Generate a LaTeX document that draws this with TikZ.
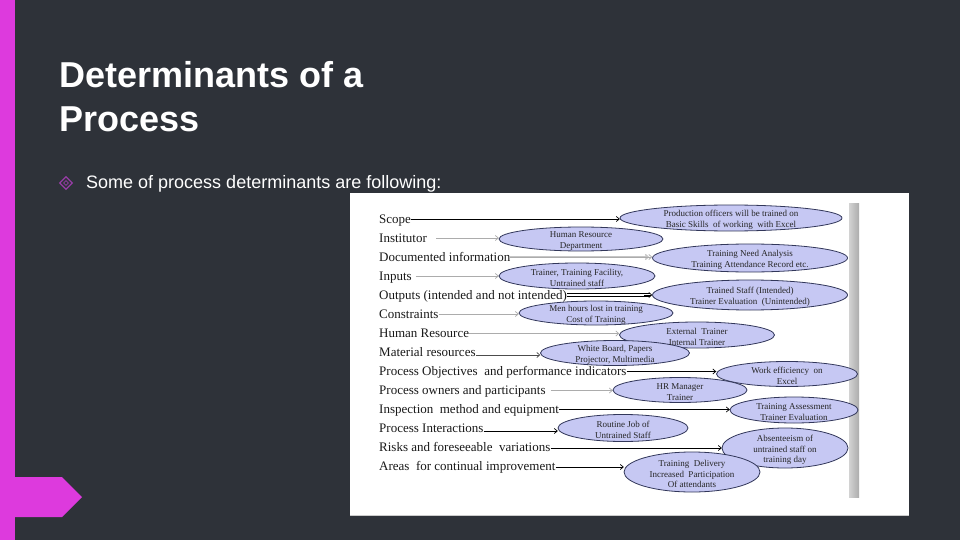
\documentclass[tikz,border=0pt]{standalone}
\usepackage{fontspec}
\setmainfont{Liberation Serif}
\newfontfamily\arialf{Liberation Sans}
\usetikzlibrary{shapes.geometric,arrows.meta,calc}
\definecolor{bg}{RGB}{46,50,57}
\definecolor{mag}{RGB}{221,58,221}
\definecolor{lav}{RGB}{198,200,243}
\definecolor{edgec}{RGB}{50,55,90}
\definecolor{bul}{RGB}{150,60,165}
\begin{document}
\begin{tikzpicture}[x=1pt,y=-1pt,
  lab/.style={anchor=base west, inner sep=0pt, font=\fontsize{13}{13}\selectfont, text=black!90},
  ell/.style={ellipse, draw=edgec, fill=lav, line width=0.8pt, inner sep=0pt},
  etxt/.style={inner sep=0pt, align=center, yshift=-2pt, font=\fontsize{9}{10.5}\selectfont, text=black!85},
  ark/.style={line width=0.7pt, black, -{Straight Barb[length=3pt,width=5pt]}},
  arg/.style={line width=0.7pt, gray!65, -{Straight Barb[length=3pt,width=5pt]}},
  thinl/.style={line width=0.6pt, black},
]
% background
\fill[bg] (0,0) rectangle (960,540);
\useasboundingbox (0,0) rectangle (960,540);
\fill[mag] (0,0) rectangle (15,540);
\fill[mag] (15,477) -- (62,477) -- (82,497) -- (62,517) -- (15,517) -- cycle;

% title
\node[anchor=base west, inner sep=0pt, font=\arialf\bfseries\fontsize{36}{36}\selectfont, text=white] (t1) at (59,88) {Determinants of a};
\node[anchor=base west, inner sep=0pt, font=\arialf\bfseries\fontsize{36}{36}\selectfont, text=white] (t2) at (59,132) {Process};

% bullet
\node[diamond, draw=bul, line width=1.3pt, minimum size=13pt, inner sep=0pt] (bl) at (66,183) {};
\node[diamond, draw=bul, line width=0.8pt, minimum size=5pt, inner sep=0pt] (bl2) at (66,183) {};
\node[anchor=base west, inner sep=0pt, font=\arialf\fontsize{18}{18}\selectfont, text=white!94] (sub) at (86,188) {Some of process determinants are following:};

% image panel
\fill[white] (350,193) rectangle (909,516);
\draw[gray!40, line width=0.6pt] (350,515.5) -- (909,515.5);
\shade[left color=gray!35, right color=gray!65] (849,203) rectangle (859,497);

% row coordinates
\coordinate (r1) at (0,219);
\coordinate (r2) at (0,238);
\coordinate (r3) at (0,257);
\coordinate (r4) at (0,276);
\coordinate (r5) at (0,295);
\coordinate (r6) at (0,314);
\coordinate (r7) at (0,333.5);
\coordinate (r8) at (0,355);
\coordinate (r9) at (0,371.5);
\coordinate (r10) at (0,390.5);
\coordinate (r11) at (0,409.5);
\coordinate (r12) at (0,431);
\coordinate (r13) at (0,448);
\coordinate (r14) at (0,467);

% labels
\node[lab] (l1) at (379,223) {Scope};
\node[lab] (l2) at (379,242) {Institutor};
\node[lab] (l3) at (379,261) {Documented information};
\node[lab] (l4) at (379,280) {Inputs};
\node[lab] (l5) at (379,299) {Outputs (intended and not intended)};
\node[lab] (l6) at (379,318) {Constraints};
\node[lab] (l7) at (379,337.5) {Human Resource};
\node[lab] (l8) at (379,356.5) {Material resources};
\node[lab] (l9) at (379,375.5) {Process Objectives\ \ and performance indicators};
\node[lab] (l10) at (379,394.5) {Process owners and participants};
\node[lab] (l11) at (379,413.5) {Inspection\ \ method and equipment};
\node[lab] (l12) at (379,432.5) {Process Interactions};
\node[lab] (l13) at (379,451.5) {Risks and foreseeable\ \ variations};
\node[lab] (l14) at (379,470.5) {Areas\ \ for continual improvement};

% ellipse positions (invisible reference shapes for the arrows)
\path
  (731,218) node[ellipse, inner sep=0pt, minimum width=222pt, minimum height=26pt] (e1) {}
  (581,239) node[ellipse, inner sep=0pt, minimum width=164pt, minimum height=24pt] (e2) {}
  (750,258) node[ellipse, inner sep=0pt, minimum width=195pt, minimum height=28pt] (e3) {}
  (577,276) node[ellipse, inner sep=0pt, minimum width=156pt, minimum height=26pt] (e4) {}
  (750,295) node[ellipse, inner sep=0pt, minimum width=195pt, minimum height=30pt] (e5) {}
  (596,313) node[ellipse, inner sep=0pt, minimum width=154pt, minimum height=24pt] (e6) {}
  (697,335) node[ellipse, inner sep=0pt, minimum width=155pt, minimum height=26pt] (e7) {}
  (615,353) node[ellipse, inner sep=0pt, minimum width=149pt, minimum height=25pt] (e8) {}
  (787,374) node[ellipse, inner sep=0pt, minimum width=141pt, minimum height=25pt] (e9) {}
  (680,390) node[ellipse, inner sep=0pt, minimum width=134pt, minimum height=25pt] (e10) {}
  (794,410) node[ellipse, inner sep=0pt, minimum width=128pt, minimum height=26pt] (e11) {}
  (623,428) node[ellipse, inner sep=0pt, minimum width=130pt, minimum height=27pt] (e12) {}
  (785,448) node[ellipse, inner sep=0pt, minimum width=126pt, minimum height=40pt] (e13) {}
  (692,472) node[ellipse, inner sep=0pt, minimum width=136pt, minimum height=40pt] (e14) {};

% arrows
\draw[ark] (l1.east |- r1) -- (r1 -| e1.west);
\draw[arg] ([xshift=9pt]l2.east |- r2) -- (r2 -| e2.west);
\draw[arg, gray!45, line width=1.4pt] (l3.east |- r3) -- ([xshift=-3pt]r3 -| e3.west);
\draw[arg] (l3.east |- r3) -- (r3 -| e3.west);
\draw[arg] ([xshift=4pt]l4.east |- r4) -- (r4 -| e4.west);
\draw[thinl] ([yshift=1.3pt]l5.east |- r5) -- ([yshift=1.3pt,xshift=-2pt]r5 -| e5.west);
\draw[thinl] ([yshift=-1.3pt]l5.east |- r5) -- ([yshift=-1.3pt,xshift=-2pt]r5 -| e5.west);
\draw[ark] ([xshift=-8pt]r5 -| e5.west) -- (r5 -| e5.west);
\draw[arg] (l6.east |- r6) -- (r6 -| e6.west);
\draw[arg] (l7.east |- r7) -- (r7 -| e7.west);
\draw[ark, black!70] (l8.east |- r8) -- (r8 -| e8.west);
\draw[ark] (l9.east |- r9) -- (r9 -| e9.west);
\draw[arg] ([xshift=5pt]l10.east |- r10) -- (r10 -| e10.west);
\draw[ark] (l11.east |- r11) -- (r11 -| e11.west);
\draw[ark] (l12.east |- r12) -- (r12 -| e12.west);
\draw[ark] (l13.east |- r13) -- (r13 -| e13.west);
\draw[ark] (l14.east |- r14) -- (r14 -| e14.west);

% visible ellipses on top
\path
  (e1) node[ell, minimum width=222pt, minimum height=26pt] (f1) {}
  (e2) node[ell, minimum width=164pt, minimum height=24pt] (f2) {}
  (e3) node[ell, minimum width=195pt, minimum height=28pt] (f3) {}
  (e4) node[ell, minimum width=156pt, minimum height=26pt] (f4) {}
  (e5) node[ell, minimum width=195pt, minimum height=30pt] (f5) {}
  (e6) node[ell, minimum width=154pt, minimum height=24pt] (f6) {}
  (e7) node[ell, minimum width=155pt, minimum height=26pt] (f7) {}
  (e8) node[ell, minimum width=149pt, minimum height=25pt] (f8) {}
  (e9) node[ell, minimum width=141pt, minimum height=25pt] (f9) {}
  (e10) node[ell, minimum width=134pt, minimum height=25pt] (f10) {}
  (e11) node[ell, minimum width=128pt, minimum height=26pt] (f11) {}
  (e12) node[ell, minimum width=130pt, minimum height=27pt] (f12) {}
  (e13) node[ell, minimum width=126pt, minimum height=40pt] (f13) {}
  (e14) node[ell, minimum width=136pt, minimum height=40pt] (f14) {};
\node[etxt] (x1) at (e1) {Production officers will be trained on\\Basic Skills\ \ of working\ \ with Excel};
\node[etxt] (x2) at (e2) {Human Resource\\Department};
\node[etxt] (x3) at (e3) {Training Need Analysis\\Training Attendance Record etc.};
\node[etxt] (x4) at (e4) {Trainer, Training Facility,\\Untrained staff};
\node[etxt] (x5) at (e5) {Trained Staff (Intended)\\Trainer Evaluation\ \ (Unintended)};
\node[etxt] (x6) at (e6) {Men hours lost in training\\Cost of Training};
\node[etxt] (x7) at (e7) {External\ \ Trainer\\Internal Trainer};
\node[etxt] (x8) at (e8) {White Board, Papers\\Projector, Multimedia};
\node[etxt] (x9) at (e9) {Work efficiency\ \ on\\Excel};
\node[etxt] (x10) at (e10) {HR Manager\\Trainer};
\node[etxt] (x11) at (e11) {Training Assessment\\Trainer Evaluation};
\node[etxt] (x12) at (e12) {Routine Job of\\Untrained Staff};
\node[etxt] (x13) at (e13) {Absenteeism of\\untrained staff on\\training day};
\node[etxt] (x14) at (e14) {Training\ \ Delivery\\Increased\ \ Participation\\Of attendants};
\end{tikzpicture}
\end{document}
